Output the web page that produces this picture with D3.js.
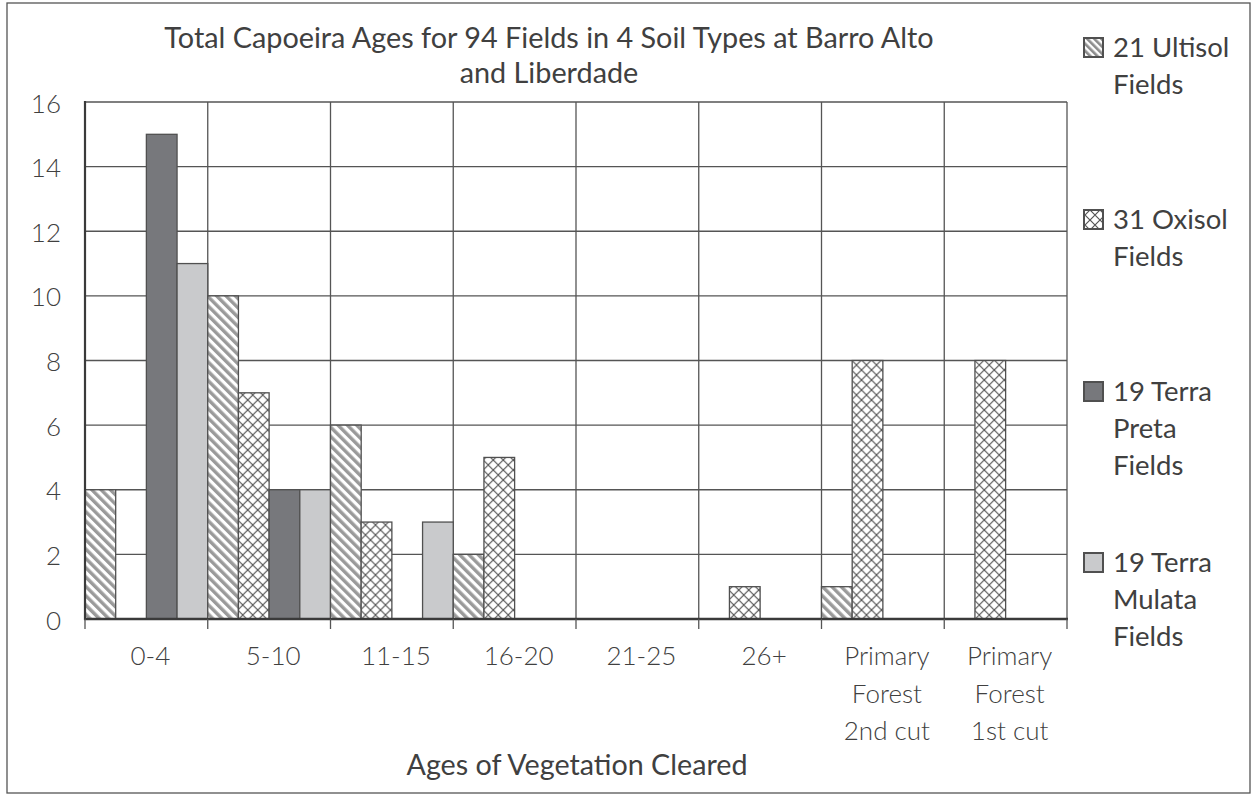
<!DOCTYPE html>
<html><head><meta charset="utf-8">
<script src="https://cdn.jsdelivr.net/npm/d3@7"></script>
<style>
body{margin:0;background:#fff}
text{font-family:Lato,"Open Sans",sans-serif;fill:#404040}
</style>
</head><body>
<svg id="chart" width="1254" height="796"></svg>
<script>
// ---- data ----
const categories = ["0-4","5-10","11-15","16-20","21-25","26+","Primary Forest 2nd cut","Primary Forest 1st cut"];
const tickLabels = [["0-4"],["5-10"],["11-15"],["16-20"],["21-25"],["26+"],["Primary","Forest","2nd cut"],["Primary","Forest","1st cut"]];
const ultisol    = [4,10,6,2,0,0,1,0];
const oxisol     = [0,7,3,5,0,1,8,8];
const terraPreta = [15,4,0,0,0,0,0,0];
const terraMulata= [11,4,3,0,0,0,0,0];
const seriesKeys = ["ultisol","oxisol","terraPreta","terraMulata"];
const legendLabels = [["21 Ultisol","Fields"],["31 Oxisol","Fields"],["19 Terra","Preta","Fields"],["19 Terra","Mulata","Fields"]];
const yTicks = [0,2,4,6,8,10,12,14,16];
const titleLines = ["Total Capoeira Ages for 94 Fields in 4 Soil Types at Barro Alto","and Liberdade"];
const xTitle = "Ages of Vegetation Cleared";

const seriesValues = {ultisol, oxisol, terraPreta, terraMulata};
const fills = {ultisol:"url(#stripe)", oxisol:"url(#cross)", terraPreta:"#77787c", terraMulata:"#c9cacc"};

const svg = d3.select("#chart");
const L = 85, R = 1067, T = 102, B = 619;

// outer frame
svg.append("rect").attr("x",7).attr("y",3).attr("width",1243).attr("height",790)
  .attr("fill","none").attr("stroke","#555").attr("stroke-width",1.3);

// patterns
const defs = svg.append("defs");
const st = defs.append("pattern").attr("id","stripe").attr("patternUnits","userSpaceOnUse")
  .attr("width",6.6).attr("height",6.6).attr("patternTransform","rotate(-45)");
st.append("rect").attr("width",6.6).attr("height",6.6).attr("fill","#fff");
st.append("rect").attr("width",3.4).attr("height",6.6).attr("fill","#9a9a9a");
const st2 = defs.append("pattern").attr("id","stripeSmall").attr("patternUnits","userSpaceOnUse")
  .attr("width",5).attr("height",5).attr("patternTransform","rotate(-45)");
st2.append("rect").attr("width",5).attr("height",5).attr("fill","#fff");
st2.append("rect").attr("width",2.6).attr("height",5).attr("fill","#8a8a8a");
const ch = defs.append("pattern").attr("id","cross").attr("patternUnits","userSpaceOnUse")
  .attr("width",10).attr("height",10);
ch.append("rect").attr("width",10).attr("height",10).attr("fill","#fff");
ch.append("path").attr("d","M-2,-2L12,12M12,-2L-2,12").attr("stroke","#555").attr("stroke-width",1.2);

// scales
const x0 = d3.scaleBand().domain(categories).range([L,R]).padding(0);
const x1 = d3.scaleBand().domain(seriesKeys).range([0,x0.bandwidth()]).padding(0);
const y = d3.scaleLinear().domain([0,16]).range([B,T]);

// grid
const grid = svg.append("g").attr("stroke","#555").attr("stroke-width",1.3);
yTicks.forEach(t=>{
  grid.append("line").attr("x1",L).attr("x2",R).attr("y1",y(t)).attr("y2",y(t));
});
const bounds = categories.map(c=>x0(c)).concat([x0.range()[1]]);
bounds.forEach(b=>{
  grid.append("line").attr("x1",b).attr("x2",b).attr("y1",T).attr("y2",B);
});

// bars
const groups = svg.append("g").selectAll("g").data(categories).join("g")
  .attr("transform",c=>`translate(${x0(c)},0)`);
groups.selectAll("rect")
  .data((c,i)=>seriesKeys.map(k=>({k, v:seriesValues[k][i]})).filter(d=>d.v>0))
  .join("rect")
  .attr("x",d=>x1(d.k)).attr("width",x1.bandwidth())
  .attr("y",d=>y(d.v)).attr("height",d=>y(0)-y(d.v))
  .attr("fill",d=>fills[d.k]).attr("stroke","#505050").attr("stroke-width",1.3);

// axes lines
svg.append("line").attr("x1",L).attr("x2",L).attr("y1",T-1).attr("y2",B+1)
  .attr("stroke","#3a3a3a").attr("stroke-width",2.2);
svg.append("line").attr("x1",L-1).attr("x2",R+1).attr("y1",B).attr("y2",B)
  .attr("stroke","#3a3a3a").attr("stroke-width",2.6);
bounds.forEach(b=>{
  svg.append("line").attr("x1",b).attr("x2",b).attr("y1",B).attr("y2",B+10)
    .attr("stroke","#555").attr("stroke-width",1.3);
});

// y axis labels
const yAxis = d3.axisLeft(y).tickValues(yTicks).tickSize(0).tickPadding(0);
const ya = svg.append("g").attr("transform",`translate(61,0)`).call(yAxis);
ya.select(".domain").remove();
ya.selectAll("text").attr("font-size",26).attr("font-family",null).attr("font-weight",300)
  .attr("fill","#404040").attr("dy",null).attr("y",10);

// x labels
const xl = svg.append("g");
categories.forEach((c,i)=>{
  const t = xl.append("text").attr("text-anchor","middle").attr("font-size",26).attr("font-weight",300)
    .attr("x",x0(c)+x0.bandwidth()/2+4).attr("y",665);
  tickLabels[i].forEach((line,j)=>{
    t.append("tspan").attr("x",x0(c)+x0.bandwidth()/2+4).attr("y",665+j*37.5).text(line);
  });
});

// x title
svg.append("text").attr("x",577).attr("y",775).attr("text-anchor","middle")
  .attr("font-size",28.7).text(xTitle);

// title
titleLines.forEach((line,i)=>{
  svg.append("text").attr("x",549).attr("y",48+i*35).attr("text-anchor","middle")
    .attr("font-size",28.8).text(line);
});

// legend
const legendBase = [57,229,401,572];
const legendFills = {ultisol:"url(#stripeSmall)", oxisol:"url(#cross)", terraPreta:"#77787c", terraMulata:"#c9cacc"};
seriesKeys.forEach((k,i)=>{
  const by = legendBase[i];
  svg.append("rect").attr("x",1084).attr("y",by-19).attr("width",19).attr("height",19)
    .attr("fill",legendFills[k]).attr("stroke","#505050").attr("stroke-width",2);
  const t = svg.append("text").attr("font-size",27.5);
  legendLabels[i].forEach((line,j)=>{
    t.append("tspan").attr("x",1113).attr("y",by+j*37).text(line);
  });
});
</script>
</body></html>
